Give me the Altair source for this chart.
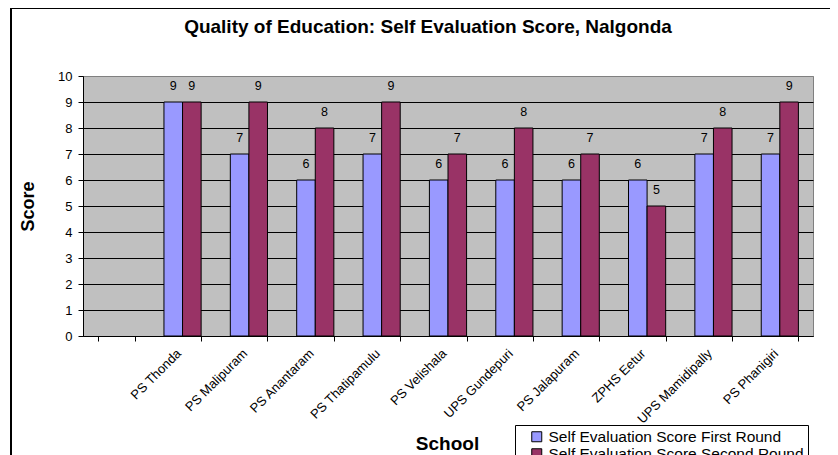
import altair as alt
import pandas as pd

# ---- data ----
schools = ["PS Thonda", "PS Malipuram", "PS Anantaram", "PS Thatipamulu", "PS Velishala",
           "UPS Gundepuri", "PS Jalapuram", "ZPHS Eetur", "UPS Mamidipally", "PS Phanigiri"]
first_round = [9, 7, 6, 7, 6, 6, 6, 6, 7, 7]
second_round = [9, 9, 8, 9, 7, 8, 7, 5, 8, 9]
series = ["Self Evaluation Score First Round", "Self Evaluation Score Second Round"]
colors = ["#9999FF", "#993366"]
y_ticks = list(range(0, 11))
x_domain = [" "] + schools  # the reference leaves the first category slot empty

rows = []
for s, a, b in zip(schools, first_round, second_round):
    rows.append({"School": s, "Round": series[0], "Score": a})
    rows.append({"School": s, "Round": series[1], "Score": b})
df = pd.DataFrame(rows)

FONT = "Liberation Sans"

x_enc = alt.X(
    "School:N",
    scale=alt.Scale(domain=x_domain, paddingInner=0.44, paddingOuter=0.22),
    axis=alt.Axis(
        title="School", labelAngle=315, labelAlign="right", labelBaseline="middle",
        labelFontSize=13, labelPadding=10, labelOffset=-4, labelFont=FONT, labelColor="black",
        labelLimit=300,
        tickBand="extent", tickSize=5, tickColor="black", domainColor="black",
        grid=False, titleFontSize=19, titleFontWeight="bold", titleFont=FONT,
        titleColor="black", titleX=364, titleY=107, titleBaseline="middle",
        titleAlign="center",
    ),
)
y_enc = alt.Y(
    "Score:Q",
    scale=alt.Scale(domain=[0, 10], nice=False),
    axis=alt.Axis(
        title="Score", values=y_ticks, grid=True,
        gridColor=alt.condition("datum.value == 10", alt.value("#808080"), alt.value("black")),
        gridWidth=1, tickSize=5, tickColor="black", domainColor="black",
        labelFontSize=13, labelPadding=6, labelFont=FONT, labelColor="black",
        titleFontSize=18, titleFontWeight="bold", titleFont=FONT, titleColor="black",
        titleX=-55, titleY=130, titleAlign="center", titleBaseline="middle",
    ),
)
xoff = alt.XOffset("Round:N", scale=alt.Scale(domain=series, paddingInner=0, paddingOuter=0))

frame = alt.Chart(alt.Data(values=[{"k": 1}])).mark_rect(
    fill="transparent", stroke="black", strokeWidth=2
).encode(x=alt.value(-72), x2=alt.value(800), y=alt.value(-68), y2=alt.value(440))

bars = alt.Chart(df).mark_bar(stroke="black", strokeWidth=1).encode(
    x=x_enc,
    xOffset=xoff,
    y=y_enc,
    color=alt.Color(
        "Round:N",
        scale=alt.Scale(domain=series, range=colors),
        legend=alt.Legend(
            title=None, orient="none", legendX=432, legendY=349, direction="vertical",
            strokeColor="black", fillColor="white", padding=4,
            symbolType="square", symbolSize=100, symbolStrokeColor="black",
            symbolStrokeWidth=1, symbolOffset=10, labelFontSize=15.5, labelFont=FONT,
            labelColor="black", labelOffset=4, labelLimit=400, rowPadding=-6,
        ),
    ),
)

labels = alt.Chart(df).mark_text(
    baseline="alphabetic", dy=-12.5, fontSize=12.5, font=FONT, color="black"
).encode(x=x_enc, xOffset=xoff, y=y_enc, text="Score:Q")

chart = alt.layer(frame, bars, labels).properties(
    width=730,
    height=260,
    autosize=alt.AutoSizeParams(type="none"),
    padding={"left": 75, "top": 68, "right": 17, "bottom": 119},
    title=alt.TitleParams(
        "Quality of Education: Self Evaluation Score, Nalgonda",
        fontSize=19, fontWeight="bold", font=FONT, color="black",
        anchor="middle", dx=-20, offset=0, dy=30,
    ),
).configure_view(fill="#C0C0C0", stroke="#808080", strokeWidth=1)

chart.save("out.html", embed_options={"renderer": "svg", "actions": False})
